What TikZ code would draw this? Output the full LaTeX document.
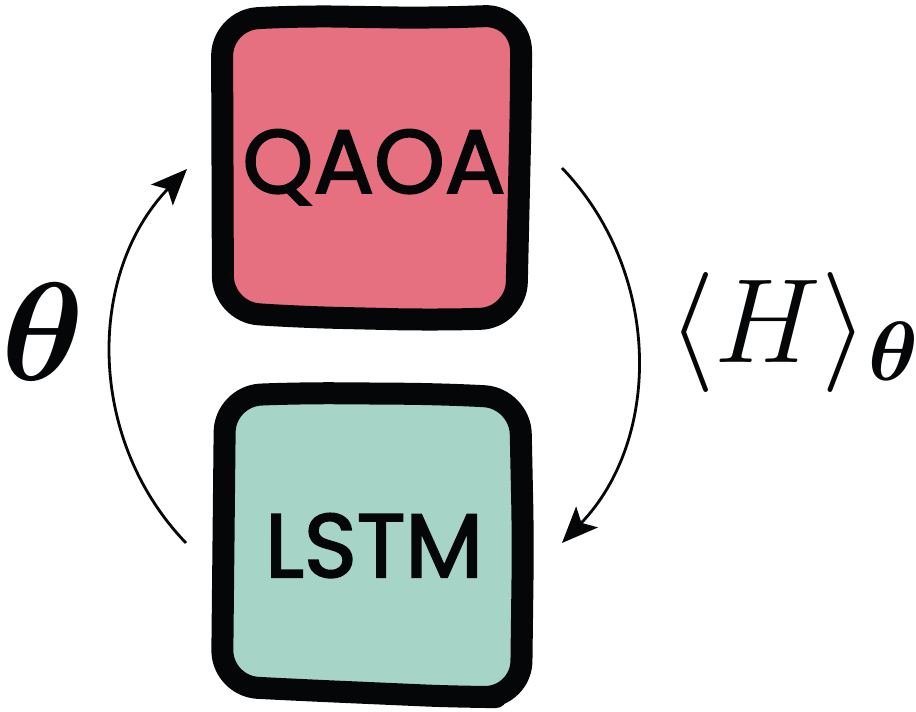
\RequirePackage{fix-cm}
\documentclass[tikz,border=0pt]{standalone}
\usepackage{amsmath,bm}
\usepackage{fontspec}
\newfontfamily\boxfont[FakeBold=2.2]{Poppins}
\usetikzlibrary{arrows.meta}
\definecolor{qaoapink}{HTML}{E6707F}
\definecolor{lstmteal}{HTML}{A6D5C8}
\definecolor{inkblack}{HTML}{050608}
\tikzset{
  sketchbox/.style={draw=inkblack, line width=22pt, line join=round, rounded corners=36pt},
  boxlabel/.style={font=\boxfont\fontsize{90}{100}\selectfont, text=inkblack, inner sep=0pt, anchor=base},
  looparrow/.style={draw=inkblack, line width=2.8pt, -{Stealth[length=36pt,width=30pt,inset=8pt]}},
  mathlabel/.style={inner sep=0pt, text=inkblack}
}
\begin{document}
\begin{tikzpicture}[x=1pt,y=-1pt]
\useasboundingbox (0,0) rectangle (916,712);
% QAOA box
\path[sketchbox, fill=qaoapink] (222,20) -- (300,16) -- (430,18) -- (521,15) -- (521,100) -- (516,318) -- (430,320) -- (300,317) -- (223,312) -- cycle;
% LSTM box
\path[sketchbox, fill=lstmteal] (225,396) -- (300,393) -- (440,394) -- (520,398) -- (523,540) -- (521,697) -- (460,697) -- (300,690) -- (222,686) -- cycle;
\node[boxlabel] (qaoa) at (374,193) {QAOA};
\node[boxlabel] (lstm) at (374,577) {LSTM};
% loop arrows
\coordinate (lstart) at (186,543);
\coordinate (ltip) at (187,169);
\coordinate (rstart) at (562,168);
\coordinate (rtip) at (562,543);
\draw[looparrow] (lstart) .. controls (86,439) and (87,273) .. (ltip);
\draw[looparrow] (rstart) .. controls (662,272) and (662,439) .. (rtip);
% labels
\node[mathlabel, anchor=base] (theta) at (43,380) {\fontsize{140}{160}\selectfont$\bm{\theta}$};
\node[mathlabel, anchor=base west] (expval) at (668,362) {\fontsize{120}{140}\selectfont$\langle H\rangle_{\bm{\theta}}$};
\end{tikzpicture}
\end{document}
